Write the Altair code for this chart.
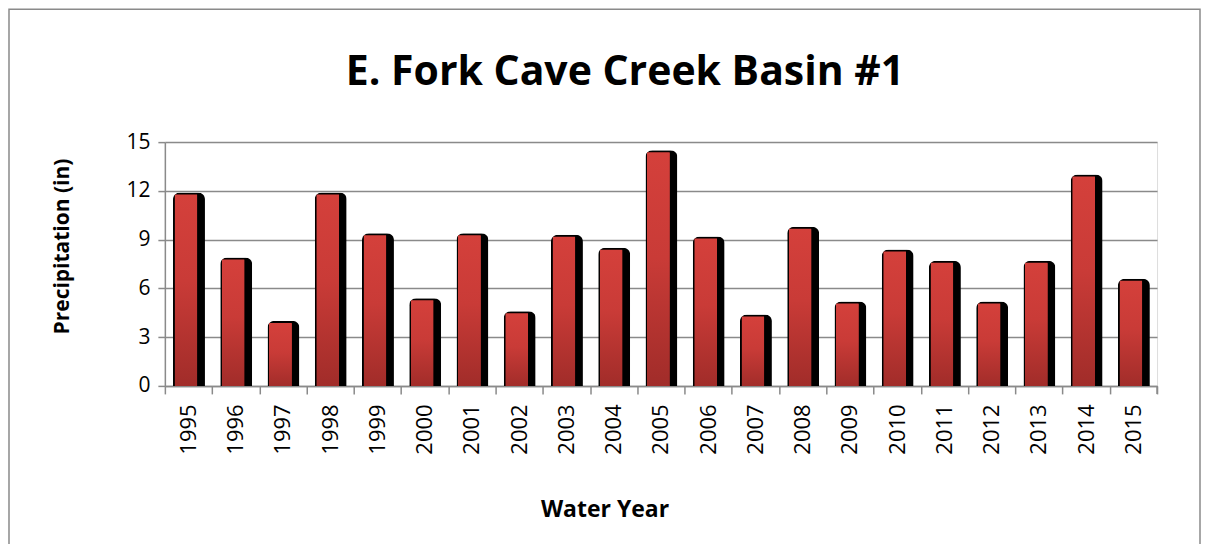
import altair as alt
import pandas as pd

years = [str(y) for y in range(1995, 2016)]
precip = [11.9, 7.9, 4.0, 11.9, 9.4, 5.4, 9.4, 4.6, 9.3, 8.5, 14.5,
          9.2, 4.4, 9.8, 5.2, 8.4, 7.7, 5.2, 7.7, 13.0, 6.6]
title_text = ["E. Fork Cave Creek Basin #1"]

df = pd.DataFrame({"year": years, "precip": precip})

FONT = "Open Sans"
GRAY = "#8a8a8a"
W, H = 993, 244

x_enc = alt.X(
    "year:N",
    sort=years,
    scale=alt.Scale(paddingInner=0, paddingOuter=0),
    axis=alt.Axis(
        title="Water Year",
        labelAngle=270,
        labelFontSize=22,
        labelFont=FONT,
        labelColor="#000000",
        labelPadding=10,
        tickBand="extent",
        ticks=True,
        tickSize=8,
        tickColor=GRAY,
        tickWidth=1.5,
        domainColor=GRAY,
        domainWidth=1.5,
        titleFont=FONT,
        titleFontSize=23,
        titleFontWeight="bold",
        titleColor="#000000",
        titleX=440,
        titleY=131,
        titleBaseline="alphabetic",
        grid=False,
    ),
)

y_enc = alt.Y(
    "precip:Q",
    scale=alt.Scale(domain=[0, 15], nice=False),
    axis=alt.Axis(
        title="Precipitation (in)",
        values=[0, 3, 6, 9, 12, 15],
        labelFontSize=21,
        labelFont=FONT,
        labelColor="#000000",
        labelPadding=8,
        tickSize=7,
        tickColor=GRAY,
        tickWidth=1.5,
        domainColor=GRAY,
        domainWidth=1.5,
        grid=True,
        gridColor=GRAY,
        gridWidth=1.5,
        titleFont=FONT,
        titleFontSize=21,
        titleFontWeight="bold",
        titleColor="#000000",
        titleX=-102,
        titleY=104,
        titleBaseline="middle",
        titleAngle=270,
    ),
)

base = alt.Chart(df)

shadow = base.mark_bar(
    color="#000000", width=32, xOffset=0.5,
    cornerRadiusTopLeft=7, cornerRadiusTopRight=7,
).encode(x=x_enc, y=y_enc)

red = base.mark_bar(
    width=23, xOffset=-2.5, yOffset=2,
    cornerRadiusTopLeft=3, cornerRadiusTopRight=3,
    color=alt.Gradient(
        gradient="linear",
        stops=[
            alt.GradientStop(color="#d4403b", offset=0),
            alt.GradientStop(color="#c93b37", offset=0.45),
            alt.GradientStop(color="#a02c29", offset=1),
        ],
        x1=0, x2=0, y1=0, y2=1,
    ),
).encode(x=x_enc, y=y_enc)

frame_df = pd.DataFrame({"a": [0]})
frame = alt.Chart(frame_df).mark_rect(
    fill=None, stroke=GRAY, strokeWidth=1.5
).encode(
    x=alt.value(-156), x2=alt.value(W + 43),
    y=alt.value(-133), y2=alt.value(H + 200),
)

end_tick = alt.Chart(frame_df).mark_rule(color=GRAY, strokeWidth=1.5).encode(
    x=alt.value(W), y=alt.value(H), y2=alt.value(H + 8)
)

title_df = pd.DataFrame({"t": title_text})
title = alt.Chart(title_df).mark_text(
    font=FONT, fontSize=41, fontWeight="bold", color="#000000",
    align="center", baseline="alphabetic",
).encode(
    text="t:N", x=alt.value(460.5), y=alt.value(-57),
)

chart = alt.layer(frame, shadow, red, end_tick, title).properties(
    width=W,
    height=H,
    autosize=alt.AutoSizeParams(type="none"),
    padding={"left": 157, "top": 134, "right": 44, "bottom": 158},
).configure_view(stroke=None).configure(background="#ffffff")

chart.save("out.html", embed_options={"renderer": "svg", "actions": False})
